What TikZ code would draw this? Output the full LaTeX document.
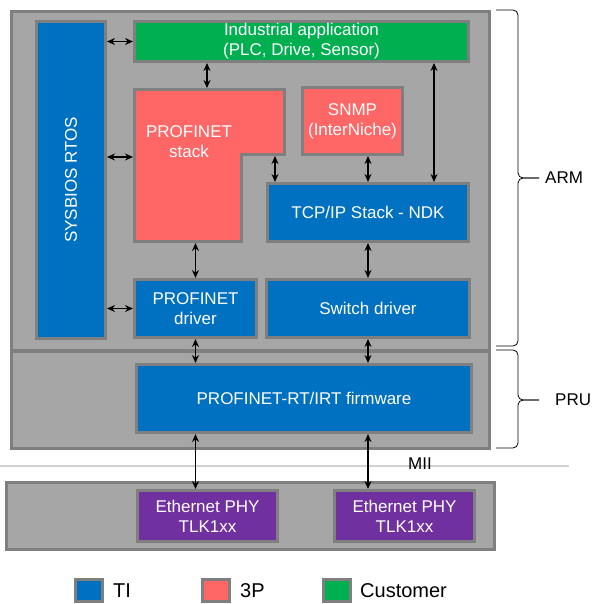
\documentclass[tikz,border=0pt]{standalone}
\usepackage{fontspec}
\setmainfont{Liberation Sans}
\usetikzlibrary{arrows.meta,positioning}
\definecolor{tiblue}{HTML}{0070C0}
\definecolor{thirdred}{HTML}{FF6666}
\definecolor{custgreen}{HTML}{00B050}
\definecolor{phypurple}{HTML}{7030A0}
\definecolor{panelgray}{HTML}{A6A6A6}
\definecolor{edgegray}{HTML}{7F7F7F}
\definecolor{rulegray}{HTML}{D0D0D0}

\begin{document}
\begin{tikzpicture}[x=1pt,y=-1pt,
    boxtext/.style={text=white,align=center,inner sep=0pt,font=\fontsize{17}{20}\selectfont},
    box/.style={boxtext,draw=edgegray,line width=3pt},
    panel/.style={box,fill=panelgray},
    ti/.style={box,fill=tiblue},
    thirdp/.style={box,fill=thirdred},
    cust/.style={box,fill=custgreen},
    phy/.style={box,fill=phypurple,minimum width=140pt,minimum height=51pt},
    key/.style={draw=edgegray,line width=3pt,minimum width=27pt,minimum height=22pt,inner sep=0pt},
    keytext/.style={inner sep=0pt,font=\fontsize{20}{24}\selectfont},
    bracetext/.style={inner sep=0pt,font=\fontsize{17}{20}\selectfont},
    biarrow/.style={{Stealth[length=8pt,width=7pt]}-{Stealth[length=8pt,width=7pt]},line width=1.1pt},
    ]
    \useasboundingbox (0,0) rectangle (593,604);
    %arm and pru
    \node[panel,minimum width=478pt,minimum height=339pt] (arm) at (250.5,181) {};
    \node[panel,minimum width=478pt,minimum height=97pt] (pru) at (250.5,400) {};
    %arm blocks
    \node[ti,minimum width=317pt,minimum height=69pt,rotate=90] (rtos) at (71,180) {SYSBIOS RTOS};
    \node[cust,minimum width=334pt,minimum height=40pt] (app) at (301.5,41.5) {Industrial application\\(PLC, Drive, Sensor)};
    \node[thirdp,minimum width=100pt,minimum height=67pt] (snmp) at (352.5,121) {SNMP\\(InterNiche)};
    \node[ti,minimum width=201pt,minimum height=58pt] (tcp) at (368,212.5) {TCP/IP Stack - NDK};
    \node[ti,minimum width=122pt,minimum height=58pt] (pdrv) at (195.5,308.5) {PROFINET\\driver};
    \node[ti,minimum width=203pt,minimum height=58pt] (swdrv) at (368,308.5) {Switch driver};
    %profinet stack
    \draw[draw=edgegray,line width=3pt,fill=thirdred] (134.5,89.5) -- (284.5,89.5) -- (284.5,154.5)
        -- (241.5,154.5) -- (241.5,241.5) -- (134.5,241.5) -- cycle;
    \node[boxtext] (stk) at (189,142) {PROFINET\\stack};
    \coordinate (stkn) at (207,88);
    \coordinate (stkw) at (133,157);
    \coordinate (stke) at (275,156);
    \coordinate (stks) at (195.5,243);
    \coordinate (ndkx) at (434,0);
    %pru
    \node[ti,minimum width=335pt,minimum height=68pt] (fw) at (304,398.5) {PROFINET-RT/IRT firmware};
    %phy board
    \draw[rulegray,line width=1.5pt] (0,466) -- (569,466);
    \node[bracetext] (mii) at (420,464) {MII};
    \node[panel,minimum width=488pt,minimum height=67pt] (board) at (250.5,516) {};
    \node[phy] (phya) at (207.5,516) {Ethernet PHY\\TLK1xx};
    \node[phy] (phyb) at (404.5,516) {Ethernet PHY\\TLK1xx};
    %arrows
    \draw[biarrow] (rtos.south |- app.west) -- (app.west);
    \draw[biarrow] (rtos.south |- stkw) -- (stkw);
    \draw[biarrow] (rtos.south |- pdrv.west) -- (pdrv.west);
    \draw[biarrow] (app.south -| stkn) -- (stkn);
    \draw[biarrow] (app.south -| ndkx) -- (tcp.north -| ndkx);
    \draw[biarrow] (stke) -- (tcp.north -| stke);
    \draw[biarrow] (snmp.south -| tcp) -- (tcp.north);
    \draw[biarrow] (stks) -- (pdrv.north);
    \draw[biarrow] (tcp.south) -- (swdrv.north);
    \draw[biarrow] (pdrv.south) -- (fw.north -| pdrv);
    \draw[biarrow] (swdrv.south) -- (fw.north -| swdrv);
    \draw[biarrow] (fw.south -| pdrv) -- (phya.north -| pdrv);
    \draw[biarrow] (fw.south -| swdrv) -- (phyb.north -| swdrv);
    %braces
    \draw[line width=0.8pt,rounded corners=5pt] (496,10) -| (518,178) -- (539,178);
    \draw[line width=0.8pt,rounded corners=5pt] (539,178) -- (518,178) |- (496,346);
    \draw[line width=0.8pt,rounded corners=5pt] (496,350) -| (518,400) -- (539,400);
    \draw[line width=0.8pt,rounded corners=5pt] (539,400) -- (518,400) |- (496,448);
    \node[bracetext,anchor=west] (armlbl) at (545,178) {ARM};
    \node[bracetext,anchor=west] (prulbl) at (555,400) {PRU};
    %legend
    \node[key,fill=tiblue] (tikey) at (89,590.5) {};
    \node[keytext,right=9pt of tikey] (tilbl) {TI};
    \node[key,fill=thirdred] (tpkey) at (216,590.5) {};
    \node[keytext,right=9pt of tpkey] (tplbl) {3P};
    \node[key,fill=custgreen] (cukey) at (337,590.5) {};
    \node[keytext,right=8pt of cukey] (culbl) {Customer};
\end{tikzpicture}
\end{document}
